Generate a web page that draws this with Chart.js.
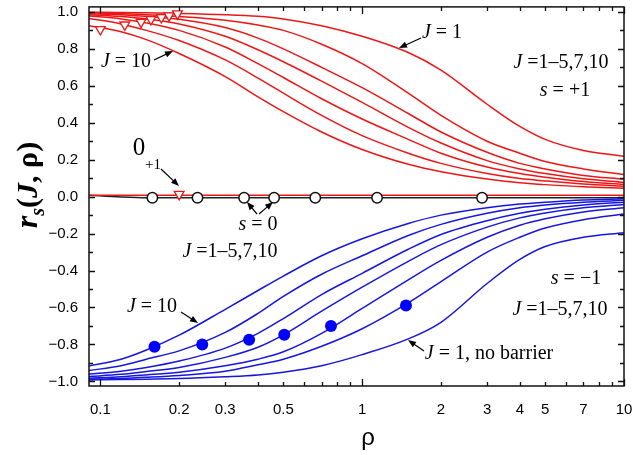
<!DOCTYPE html>
<html>
<head>
<meta charset="utf-8">
<script src="https://cdn.jsdelivr.net/npm/chart.js@4.4.0/dist/chart.umd.min.js"></script>
<style>
  html, body { margin: 0; padding: 0; background: #fff; }
</style>
</head>
<body>
<canvas id="c" width="633" height="455"></canvas>
<script>
// --- data ---
const rho = [0.09, 0.12, 0.15, 0.2, 0.3, 0.4, 0.5, 0.7, 1, 1.5, 2, 3, 4, 5, 7, 10];

// s = +1, J = 1..5,7,10
const redJ1  = [0.998, 0.997, 0.995, 0.992, 0.985, 0.976, 0.962, 0.925, 0.868, 0.78, 0.685, 0.50, 0.38, 0.31, 0.25, 0.218];
const redJ2  = [0.995, 0.99, 0.985, 0.975, 0.955, 0.929, 0.90, 0.825, 0.72, 0.56, 0.44, 0.30, 0.235, 0.19, 0.15, 0.12];
const redJ3  = [0.99, 0.985, 0.975, 0.96, 0.915, 0.858, 0.80, 0.70, 0.59, 0.45, 0.35, 0.24, 0.18, 0.15, 0.115, 0.094];
const redJ4  = [0.985, 0.975, 0.962, 0.935, 0.868, 0.795, 0.73, 0.625, 0.51, 0.375, 0.29, 0.195, 0.15, 0.125, 0.097, 0.078];
const redJ5  = [0.978, 0.962, 0.94, 0.90, 0.81, 0.72, 0.645, 0.53, 0.42, 0.31, 0.235, 0.16, 0.125, 0.105, 0.082, 0.067];
const redJ7  = [0.965, 0.935, 0.90, 0.845, 0.74, 0.642, 0.56, 0.44, 0.33, 0.235, 0.18, 0.125, 0.098, 0.085, 0.068, 0.056];
const redJ10 = [0.925, 0.893, 0.85, 0.775, 0.65, 0.54, 0.46, 0.35, 0.255, 0.175, 0.135, 0.095, 0.075, 0.065, 0.053, 0.046];

// s = -1
const blueJ1  = [-0.992, -0.99, -0.988, -0.985, -0.975, -0.965, -0.95, -0.915, -0.855, -0.77, -0.68, -0.47, -0.34, -0.27, -0.22, -0.195];
const blueJ2  = [-0.988, -0.984, -0.978, -0.968, -0.945, -0.91, -0.88, -0.81, -0.715, -0.575, -0.46, -0.30, -0.22, -0.17, -0.125, -0.094];
const blueJ3  = [-0.983, -0.975, -0.965, -0.95, -0.915, -0.88, -0.84, -0.74, -0.605, -0.45, -0.345, -0.22, -0.155, -0.12, -0.083, -0.06];
const blueJ4  = [-0.974, -0.962, -0.947, -0.925, -0.87, -0.815, -0.748, -0.62, -0.49, -0.35, -0.26, -0.165, -0.115, -0.088, -0.06, -0.042];
const blueJ5  = [-0.961, -0.945, -0.925, -0.89, -0.82, -0.74, -0.66, -0.53, -0.415, -0.285, -0.205, -0.13, -0.09, -0.068, -0.045, -0.03];
const blueJ7  = [-0.942, -0.915, -0.88, -0.835, -0.735, -0.632, -0.54, -0.42, -0.32, -0.21, -0.15, -0.09, -0.06, -0.045, -0.03, -0.02];
const blueJ10 = [-0.917, -0.88, -0.83, -0.75, -0.61, -0.508, -0.43, -0.32, -0.228, -0.145, -0.10, -0.06, -0.04, -0.03, -0.018, -0.012];

// s = 0 and the 0_{+1} line
const zeroBlack = [0.008, -0.002, -0.006, -0.006, -0.006, -0.006, -0.006, -0.006, -0.006, -0.006, -0.006, -0.006, -0.006, -0.006, -0.006, -0.006];
const zeroRed   = [0.008, 0.008, 0.008, 0.008, 0.008, 0.008, 0.008, 0.008, 0.008, 0.008, 0.008, 0.008, 0.008, 0.008, 0.008, 0.008];

// markers
const triRho  = [0.1, 0.124, 0.143, 0.156, 0.171, 0.183, 0.197, 0.2];
const triVal  = [0.905, 0.93, 0.945, 0.96, 0.97, 0.98, 0.99, 0.013];
const circRho = [0.158, 0.235, 0.354, 0.461, 0.662, 1.14, 2.87];
const circVal = [-0.006, -0.006, -0.006, -0.006, -0.006, -0.006, -0.006];
const dotRho  = [0.161, 0.245, 0.37, 0.504, 0.76, 1.47];
const dotVal  = [-0.813, -0.80, -0.775, -0.748, -0.70, -0.589];

// axes
const xTicks = [0.1, 0.2, 0.3, 0.5, 1, 2, 3, 4, 5, 7, 10];
const yTicks = [-1.0, -0.8, -0.6, -0.4, -0.2, 0.0, 0.2, 0.4, 0.6, 0.8, 1.0];

const RED = 'rgb(236,22,22)';
const BLUE = 'rgb(22,22,222)';

const pts = (xs, ys) => xs.map((x, i) => ({ x: x, y: ys[i] }));
const curve = (ys, color) => ({
  data: pts(rho, ys), borderColor: color, borderWidth: 1.5,
  pointRadius: 0, cubicInterpolationMode: 'monotone', fill: false, order: 1
});

const datasets = [
  ...[redJ1, redJ2, redJ3, redJ4, redJ5, redJ7, redJ10].map(s => curve(s, RED)),
  ...[blueJ1, blueJ2, blueJ3, blueJ4, blueJ5, blueJ7, blueJ10].map(s => curve(s, BLUE)),
  curve(zeroRed, RED),
  curve(zeroBlack, '#222'),
  { data: pts(circRho, circVal), showLine: false, pointRadius: 5.2, pointBackgroundColor: '#fff',
    pointBorderColor: '#111', pointBorderWidth: 1.5, order: -1 },
  { data: pts(dotRho, dotVal), showLine: false, pointRadius: 6, pointBackgroundColor: 'rgb(0,0,255)',
    pointBorderColor: 'rgb(0,0,255)', pointBorderWidth: 0, order: -1 },
  { data: pts(triRho, triVal), showLine: false, pointStyle: 'triangle', rotation: 180, pointRadius: 5.6,
    pointBackgroundColor: '#fff', pointBorderColor: RED, pointBorderWidth: 1.3, order: -2 }
];

// text pieces: [text, style]  (i = italic, n = normal)
function drawRuns(ctx, parts, cx, cy, size) {
  const f = st => (st === 'i' ? 'italic ' : '') + size + 'px "Liberation Serif", "DejaVu Serif", serif';
  let w = 0;
  parts.forEach(p => { ctx.font = f(p[1]); w += ctx.measureText(p[0]).width; });
  let x = cx - w / 2;
  ctx.textAlign = 'left';
  ctx.textBaseline = 'middle';
  parts.forEach(p => { ctx.font = f(p[1]); ctx.fillText(p[0], x, cy); x += ctx.measureText(p[0]).width; });
}

function arrow(ctx, x1, y1, x2, y2) {
  const a = Math.atan2(y2 - y1, x2 - x1), L = 8, W = 3.2;
  const c = Math.cos(a), s = Math.sin(a);
  ctx.beginPath();
  ctx.moveTo(x1, y1);
  ctx.lineTo(x2 - c * L * 0.7, y2 - s * L * 0.7);
  ctx.stroke();
  ctx.beginPath();
  ctx.moveTo(x2, y2);
  ctx.lineTo(x2 - L * c + W * s, y2 - L * s - W * c);
  ctx.lineTo(x2 - L * c - W * s, y2 - L * s + W * c);
  ctx.closePath();
  ctx.fill();
}

const deco = {
  id: 'deco',
  afterDatasetsDraw(chart) {
    const ctx = chart.ctx, a = chart.chartArea, xs = chart.scales.x, ys = chart.scales.y;
    ctx.save();
    ctx.strokeStyle = '#111';
    ctx.lineWidth = 1.3;
    // inward tick marks, x (log) on top and bottom
    for (let d = 0.01; d <= 10; d *= 10) {
      for (let m = 1; m <= 9; m++) {
        const v = m * d;
        if (v < xs.min || v > xs.max * 1.0001) continue;
        const px = Math.round(xs.getPixelForValue(v)) + 0.5;
        const len = m === 1 ? 7 : 4;
        ctx.beginPath();
        ctx.moveTo(px, a.bottom); ctx.lineTo(px, a.bottom - len);
        ctx.moveTo(px, a.top); ctx.lineTo(px, a.top + len);
        ctx.stroke();
      }
    }
    // y ticks every 0.1, left and right
    for (let k = -10; k <= 10; k++) {
      const py = Math.round(ys.getPixelForValue(k / 10)) + 0.5;
      const len = k % 2 === 0 ? 6 : 4;
      ctx.beginPath();
      ctx.moveTo(a.left, py); ctx.lineTo(a.left + len, py);
      ctx.moveTo(a.right, py); ctx.lineTo(a.right - len, py);
      ctx.stroke();
    }
    ctx.lineWidth = 1.5;
    ctx.strokeRect(a.left, a.top, a.right - a.left, a.bottom - a.top);
    ctx.restore();
  },
  afterDraw(chart) {
    const ctx = chart.ctx;
    ctx.save();
    ctx.fillStyle = '#000';
    ctx.strokeStyle = '#000';
    ctx.lineWidth = 1.2;
    const S = 20;
    drawRuns(ctx, [['J', 'i'], [' = 1', 'n']], 442, 33, S);
    arrow(ctx, 421, 38, 399, 48);
    drawRuns(ctx, [['J', 'i'], [' = 10', 'n']], 126, 62, S);
    arrow(ctx, 154, 60, 173, 51);
    drawRuns(ctx, [['J', 'i'], [' =1\u20135,7,10', 'n']], 561, 63, S);
    drawRuns(ctx, [['s', 'i'], [' = +1', 'n']], 565, 91, S);
    drawRuns(ctx, [['0', 'n']], 139, 148, 25);
    drawRuns(ctx, [['+1', 'n']], 153, 165, 15);
    arrow(ctx, 161, 169, 179, 186);
    drawRuns(ctx, [['s', 'i'], [' = 0', 'n']], 258, 225, S);
    arrow(ctx, 257, 214, 247, 202);
    arrow(ctx, 259, 214, 273, 202);
    drawRuns(ctx, [['J', 'i'], [' =1\u20135,7,10', 'n']], 230, 252, S);
    drawRuns(ctx, [['J', 'i'], [' = 10', 'n']], 152, 307, S);
    arrow(ctx, 181, 312, 198, 323);
    drawRuns(ctx, [['s', 'i'], [' = \u22121', 'n']], 576, 279, S);
    drawRuns(ctx, [['J', 'i'], [' =1\u20135,7,10', 'n']], 560, 310, S);
    drawRuns(ctx, [['J', 'i'], [' = 1, no barrier', 'n']], 489, 354, S);
    arrow(ctx, 424, 351, 408, 340);

    // axis titles
    ctx.font = '24px "Liberation Sans", Arial, sans-serif';
    ctx.textAlign = 'center';
    ctx.textBaseline = 'middle';
    ctx.fillText('\u03c1', 368, 438);

    ctx.translate(28, 185);
    ctx.rotate(-Math.PI / 2);
    ctx.textAlign = 'left';
    ctx.textBaseline = 'alphabetic';
    const bi = sz => 'bold italic ' + sz + 'px "Liberation Serif", serif';
    const bn = sz => 'bold ' + sz + 'px "Liberation Serif", serif';
    const parts = [['r', bi(32), 0], ['s', bi(20), 7], ['(', bn(30), 0], ['J', bi(30), 0],
                   [', ', bn(30), 0], ['\u03c1', bn(30), 0], [')', bn(30), 0]];
    let w = 0;
    parts.forEach(p => { ctx.font = p[1]; w += ctx.measureText(p[0]).width; });
    let x = -w / 2;
    parts.forEach(p => { ctx.font = p[1]; ctx.fillText(p[0], x, 9 + p[2]); x += ctx.measureText(p[0]).width; });
    ctx.restore();
  }
};

new Chart(document.getElementById('c').getContext('2d'), {
  type: 'line',
  data: { datasets: datasets },
  plugins: [deco],
  options: {
    responsive: false,
    animation: false,
    layout: { padding: { left: 0, right: 9, top: 4, bottom: 0 } },
    plugins: { legend: { display: false }, tooltip: { enabled: false } },
    scales: {
      x: {
        type: 'logarithmic', min: 0.0905, max: 10,
        border: { display: false },
        grid: { display: false, drawTicks: false },
        afterBuildTicks: s => { s.ticks = xTicks.map(v => ({ value: v })); },
        afterFit: s => { s.height = 69; s.paddingLeft = 0; s.paddingRight = 0; },
        ticks: {
          autoSkip: false, maxRotation: 0, padding: 15, color: '#000',
          font: { family: '"Liberation Sans", Arial, sans-serif', size: 15 },
          callback: v => String(v)
        }
      },
      y: {
        type: 'linear', min: -1.025, max: 1.027,
        border: { display: false },
        grid: { display: false, drawTicks: false },
        afterBuildTicks: s => { s.ticks = yTicks.map(v => ({ value: v })); },
        afterFit: s => { s.width = 89; s.paddingTop = 0; s.paddingBottom = 0; },
        ticks: {
          padding: 11, color: '#000',
          font: { family: '"Liberation Sans", Arial, sans-serif', size: 15 },
          callback: v => (v < -1e-9 ? '\u2212' : '') + Math.abs(v).toFixed(1)
        }
      }
    }
  }
});
</script>
</body>
</html>
